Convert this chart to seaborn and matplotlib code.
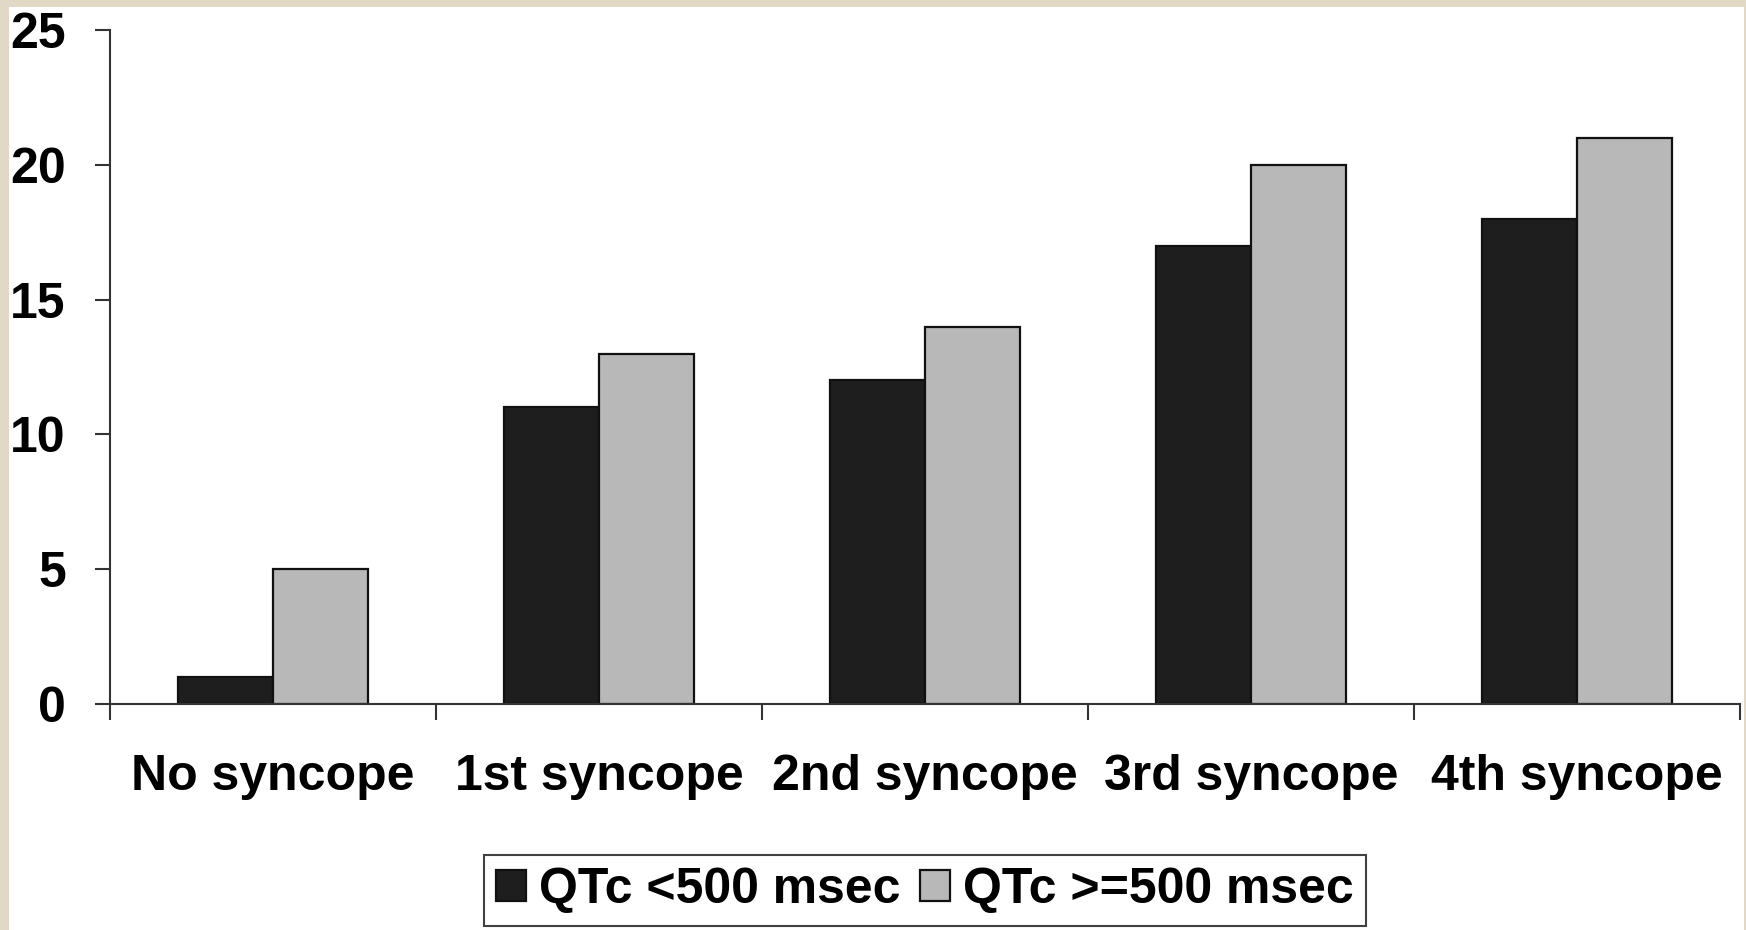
import pandas as pd
import matplotlib.pyplot as plt
import seaborn as sns
from matplotlib.patches import Rectangle

categories = ['No syncope', '1st syncope', '2nd syncope', '3rd syncope', '4th syncope']
qtc_low = [1, 11, 12, 17, 18]
qtc_high = [5, 13, 14, 20, 21]
series_names = ['QTc <500 msec', 'QTc >=500 msec']
y_ticks = [0, 5, 10, 15, 20, 25]

df = pd.DataFrame({
    'group': categories * 2,
    'value': qtc_low + qtc_high,
    'series': [series_names[0]] * 5 + [series_names[1]] * 5,
})

sns.set_style('white')
plt.rcParams['font.family'] = ['Liberation Sans', 'DejaVu Sans']
plt.rcParams['font.weight'] = 'bold'
plt.rcParams['text.color'] = 'black'

FS = 36

fig = plt.figure(figsize=(17.46, 9.30), dpi=100, facecolor='#e2d8c6')
# white panel inside the beige frame
fig.patches.append(Rectangle((9 / 1746, 0), (1744 - 9) / 1746, 1 - 7 / 930,
                             transform=fig.transFigure, facecolor='white',
                             edgecolor='none', zorder=-10))

ax = fig.add_axes([110 / 1746, 1 - 704 / 930, (1740 - 110) / 1746, (704 - 30) / 930])
ax.set_facecolor('none')

sns.barplot(data=df, x='group', y='value', hue='series', ax=ax,
            palette=['#1e1e1e', '#b8b8b8'], width=0.58,
            edgecolor='#111111', linewidth=1.6, saturation=1, legend=True)

ax.set_xlim(-0.5, 4.5)
ax.set_ylim(0, 25)
ax.set_yticks(y_ticks)
ax.set_yticklabels([str(t) for t in y_ticks], fontsize=FS, fontweight='bold')
ax.set_xticks([-0.5, 0.5, 1.5, 2.5, 3.5, 4.5])
ax.set_xticklabels([])
ax.set_xticks(range(5), minor=True)
ax.set_xticklabels(categories, minor=True, fontsize=FS, fontweight='bold')
ax.tick_params(axis='x', which='major', bottom=True, direction='out', length=11.5,
               width=1.5, color='#333333')
ax.tick_params(axis='x', which='minor', bottom=False, length=0, pad=36, labelcolor='black')
ax.tick_params(axis='y', left=True, direction='out', length=10.8, width=1.5,
               color='#333333', pad=21, labelcolor='black')
ax.set_xlabel('')
ax.set_ylabel('')
for s in ['top', 'right']:
    ax.spines[s].set_visible(False)
for s in ['left', 'bottom']:
    ax.spines[s].set_color('#333333')
    ax.spines[s].set_linewidth(1.5)

handles, labels = ax.get_legend_handles_labels()
ax.get_legend().remove()
leg = fig.legend(handles, labels, loc='center', bbox_to_anchor=(925 / 1746, 1 - 890 / 930),
                 ncol=2, frameon=True, fancybox=False,
                 prop={'weight': 'bold', 'size': FS},
                 handlelength=0.6, handleheight=0.6, handletextpad=0.25,
                 columnspacing=0.4, borderpad=0.25, borderaxespad=0,
                 edgecolor='#111111', labelcolor='black')
leg.get_frame().set_linewidth(1.5)

fig.savefig('out.png', dpi=100, facecolor=fig.get_facecolor())
